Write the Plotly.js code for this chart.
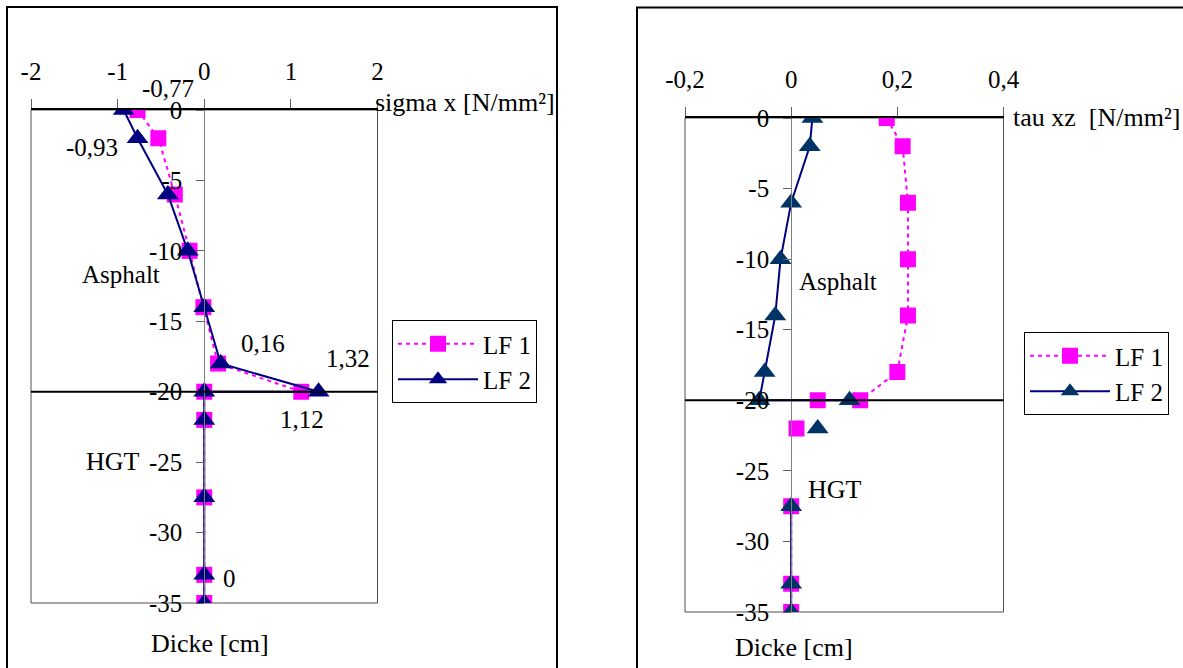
<!DOCTYPE html>
<html>
<head>
<meta charset="utf-8">
<script src="https://cdn.plot.ly/plotly-3.0.1.min.js"></script>
<style>
  html, body { margin: 0; padding: 0; background: #ffffff; }
  #chart { width: 1183px; height: 668px; }
</style>
</head>
<body>
<div id="chart"></div>
<script>
// Depth positions of the evaluation points (cm below the surface)
const depthSigma = [0, -2, -6, -10, -14, -18, -20, -20, -22, -27.5, -33, -35];
// Normal stress sigma x [N/mm²] for both load cases
const sigmaLF1 = [-0.77, -0.53, -0.34, -0.17, -0.01, 0.16, 1.12, 0, 0, 0, 0, 0];
const sigmaLF2 = [-0.93, -0.77, -0.42, -0.19, 0, 0.19, 1.32, 0, 0, 0, 0, 0];

// Depths for the shear stress profile (null = break in the line)
const depthTau = [0, -2, -6, -10, -14, -18, -20, -20, null, -22, null, -27.5, -33, -35];
// Shear stress tau xz [N/mm²]
const tauLF1 = [0.18, 0.21, 0.22, 0.22, 0.22, 0.20, 0.13, 0.05, null, 0.01, null, 0, 0, 0];
const tauLF2 = [0.04, 0.035, 0, -0.02, -0.03, -0.05, -0.06, 0.11, null, 0.05, null, 0, 0, 0];

// Axis ticks
const sigmaTicks = [-2, -1, 0, 1, 2];
const tauTicks = [-0.2, 0, 0.2, 0.4];
const depthTicks = [0, -5, -10, -15, -20, -25, -30, -35];

// Layer boundary between asphalt and HGT
const layerBoundary = -20;

const seriesNames = ['LF 1', 'LF 2'];

// German number formatting with a plain hyphen as minus sign
const fmt = v => String(v).replace('.', ',');

const FONT = 'Liberation Serif';
const FS = 25;
const W = 1183, H = 668;
const px = x => x / W;
const py = y => 1 - y / H;

const pink = '#ff00ff';
const navy = '#000080';
const navyMarker = '#003366';

const xDomL = [px(31), px(377.5)];
const yDomL = [py(603), py(110)];
const xDomR = [px(685), px(1003.5)];
const yDomR = [py(612), py(118)];

const traces = [
  {
    x: sigmaLF1, y: depthSigma, xaxis: 'x', yaxis: 'y', name: seriesNames[0],
    mode: 'lines+markers', legend: 'legend',
    line: { color: pink, width: 2, dash: '4px,4px' },
    marker: { symbol: 'square', size: 16, color: pink }
  },
  {
    x: sigmaLF2, y: depthSigma, xaxis: 'x', yaxis: 'y', name: seriesNames[1],
    mode: 'lines+markers', legend: 'legend',
    line: { color: navy, width: 2 },
    marker: { symbol: 'triangle-up', size: 19, color: navy }
  },
  {
    x: tauLF1, y: depthTau, xaxis: 'x2', yaxis: 'y2', name: seriesNames[0],
    mode: 'lines+markers', legend: 'legend2',
    line: { color: pink, width: 2, dash: '4px,4px' },
    marker: { symbol: 'square', size: 16, color: pink }
  },
  {
    x: tauLF2, y: depthTau, xaxis: 'x2', yaxis: 'y2', name: seriesNames[1],
    mode: 'lines+markers', legend: 'legend2',
    line: { color: navy, width: 2 },
    marker: { symbol: 'triangle-up', size: 19, color: navyMarker }
  }
];

const tickFont = { family: FONT, size: FS, color: '#000' };

function xAxis(domain, range, ticks, yref) {
  return {
    domain: domain, range: range, side: 'top', anchor: yref,
    showgrid: false, zeroline: false, fixedrange: true,
    showline: true, linecolor: '#000', linewidth: 2,
    ticks: 'outside', ticklen: 9, tickwidth: 1, tickcolor: '#606060',
    tickmode: 'array', tickvals: ticks, ticktext: ticks.map(fmt),
    tickfont: tickFont, ticklabelstandoff: 9
  };
}
function yAxis(domain, position) {
  return {
    domain: domain, range: [-35, 0], anchor: 'free', position: position,
    side: 'left', showgrid: false, zeroline: false, fixedrange: true,
    showline: true, linecolor: '#808080', linewidth: 1,
    ticks: 'outside', ticklen: 8, tickwidth: 1, tickcolor: '#606060',
    tickmode: 'array', tickvals: depthTicks, ticktext: depthTicks.map(fmt),
    tickfont: tickFont, ticklabelstandoff: 9
  };
}

const posL = xDomL[0] + (xDomL[1] - xDomL[0]) * (0 - (-2)) / 4;
const posR = xDomR[0] + (xDomR[1] - xDomR[0]) * (0 - (-0.2)) / 0.6;

const textFont = { family: FONT, size: FS, color: '#000' };
const titleFont = { family: FONT, size: 26, color: '#000' };

function note(text, x, y, xanchor, font) {
  return {
    text: text, xref: 'paper', yref: 'paper', x: px(x), y: py(y),
    xanchor: xanchor || 'center', yanchor: 'middle', showarrow: false, font: font || textFont
  };
}

// Data labels attached to selected points
function pointLabel(values, i, dx, dy) {
  return {
    text: fmt(values[i]), xref: 'x', yref: 'y', x: values[i], y: depthSigma[i],
    xshift: dx, yshift: dy, showarrow: false, font: textFont
  };
}

const annotations = [
  note('sigma x [N/mm²]', 373, 102, 'left', titleFont),
  note('Dicke [cm]', 210, 643, 'center', titleFont),
  note('Asphalt', 121, 274),
  note('HGT', 113, 462, 'center', titleFont),
  note('tau xz\u00a0 [N/mm²]', 1011, 117, 'left', titleFont),
  note('Dicke [cm]', 794, 647, 'center', titleFont),
  note('Asphalt', 838, 281),
  note('HGT', 835, 490, 'center', titleFont),
  pointLabel(sigmaLF1, 0, 30, 22),
  pointLabel(sigmaLF2, 0, -32, -37),
  pointLabel(sigmaLF1, 5, 45, 20),
  pointLabel(sigmaLF2, 6, 29, 33),
  pointLabel(sigmaLF1, 6, 1, -28),
  pointLabel(sigmaLF2, 10, 25, -4)
];

const frameLine = { color: '#505050', width: 1 };
const shapes = [
  // plot frames
  { type: 'rect', xref: 'x domain', yref: 'y domain', x0: 0, x1: 1, y0: 0, y1: 1, line: frameLine, layer: 'below' },
  { type: 'rect', xref: 'x2 domain', yref: 'y2 domain', x0: 0, x1: 1, y0: 0, y1: 1, line: frameLine, layer: 'below' },
  // layer boundary
  { type: 'line', xref: 'x domain', yref: 'y', x0: 0, x1: 1, y0: layerBoundary, y1: layerBoundary, line: { color: '#000', width: 2 } },
  { type: 'line', xref: 'x2 domain', yref: 'y2', x0: 0, x1: 1, y0: layerBoundary, y1: layerBoundary, line: { color: '#000', width: 2 } },
  // chart area borders
  { type: 'rect', xref: 'paper', yref: 'paper', x0: px(7), x1: px(557), y0: -0.1, y1: py(7), line: { color: '#000', width: 2 } },
  { type: 'rect', xref: 'paper', yref: 'paper', x0: px(637), x1: 1.1, y0: -0.1, y1: py(7.5), line: { color: '#000', width: 2 } }
];

const legendBase = {
  bgcolor: '#fff', bordercolor: '#000', borderwidth: 1,
  font: { family: FONT, size: FS, color: '#000' },
  xanchor: 'left', yanchor: 'top', itemwidth: 80, tracegroupgap: 0
};

const layout = {
  width: W, height: H, margin: { l: 0, r: 0, t: 0, b: 0 },
  font: { family: FONT, size: FS, color: '#000' },
  paper_bgcolor: '#fff', plot_bgcolor: 'rgba(0,0,0,0)',
  showlegend: true,
  xaxis: xAxis(xDomL, [-2, 2], sigmaTicks, 'y'),
  yaxis: yAxis(yDomL, posL),
  xaxis2: xAxis(xDomR, [-0.2, 0.4], tauTicks, 'y2'),
  yaxis2: yAxis(yDomR, posR),
  legend: Object.assign({ x: px(392), y: py(320) }, legendBase),
  legend2: Object.assign({ x: px(1024), y: py(332) }, legendBase),
  annotations: annotations,
  shapes: shapes
};

Plotly.newPlot('chart', traces, layout, { displayModeBar: false, staticPlot: true });
</script>
</body>
</html>
